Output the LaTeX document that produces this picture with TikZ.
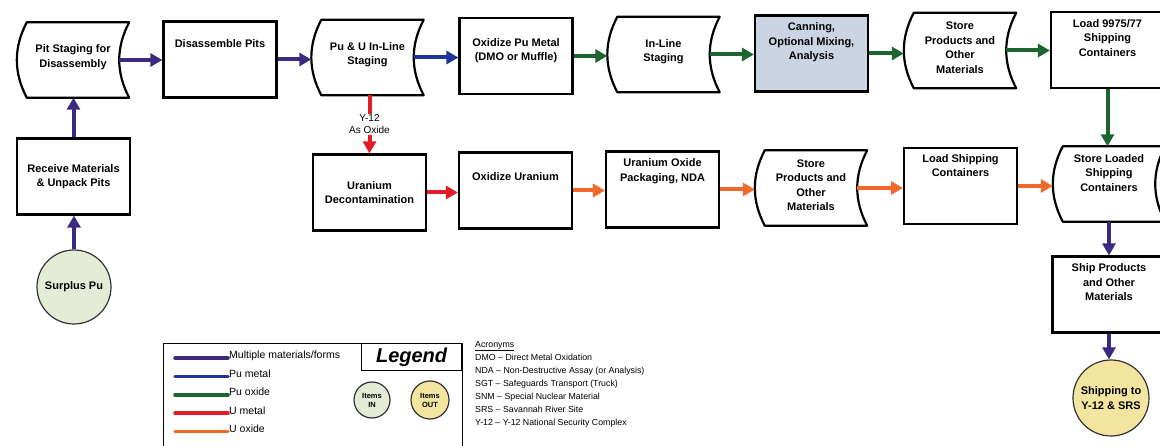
\documentclass[tikz,border=0pt]{standalone}
\usepackage{fontspec}
\setmainfont{Liberation Sans}
\usepackage{xcolor}
\usepackage{tikz}
\usetikzlibrary{arrows.meta,calc,positioning}

\definecolor{multi}{RGB}{60,42,128}
\definecolor{pumetal}{RGB}{30,52,152}
\definecolor{puoxide}{RGB}{28,100,48}
\definecolor{umetal}{RGB}{225,30,40}
\definecolor{uoxide}{RGB}{240,104,42}
\definecolor{canfill}{RGB}{202,212,226}
\definecolor{infill}{RGB}{228,236,214}
\definecolor{outfill}{RGB}{243,228,160}

\newcommand{\boxfont}{\fontsize{11}{14.5}\selectfont\bfseries}
\newcommand{\legfont}{\fontsize{10.5}{12}\selectfont}

\tikzset{
  proc/.style={draw,line width=2.2pt,minimum width=113pt,minimum height=76pt,inner sep=0pt,align=center,font=\boxfont},
  store/.style={minimum width=102pt,minimum height=75pt,inner sep=0pt},
  txt/.style={align=center,inner sep=0pt,font=\boxfont},
  ball/.style={circle,draw=black!80,line width=1.2pt,minimum size=74pt,inner sep=0pt,align=center,font=\boxfont},
  flow/.style={line width=4pt,-{Triangle[length=12pt,width=13pt]}}
}

\begin{document}
\begin{tikzpicture}[x=1pt,y=-1pt]
\useasboundingbox (0,0) rectangle (1160,446);
\fill[white] (0,0) rectangle (1160,446);
\clip (0,0) rectangle (1160,446);

% top row
\node[store] (pitstage) at (68,60) {};
\node[txt,xshift=5pt,yshift=3pt] (pitstage-t) at (pitstage) {Pit Staging for\\Disassembly};
\node[proc] (disasm) at (220,59.5) {};
\node[txt,below=19pt of disasm.north] (disasm-t) {Disassemble Pits};
\node[store] (pustage) at (362.5,57.5) {};
\node[txt,xshift=5pt,yshift=3pt] (pustage-t) at (pustage) {Pu \& U In-Line\\Staging};
\node[proc] (oxpu) at (516,56) {};
\node[txt,below=21pt of oxpu.north] (oxpu-t) {Oxidize Pu Metal\\(DMO or Muffle)};
\node[store] (inline) at (658.5,54.5) {};
\node[txt,xshift=5pt,yshift=3pt] (inline-t) at (inline) {In-Line\\Staging};
\node[proc,fill=canfill] (canning) at (811.5,53.5) {};
\node[txt,below=8pt of canning.north] (canning-t) {Canning,\\Optional Mixing,\\Analysis};
\node[store] (storetop) at (955,50.5) {};
\node[txt,xshift=5pt,yshift=3pt] (storetop-t) at (storetop) {Store\\Products and\\Other\\Materials};
\node[proc] (load9975) at (1107.5,50) {};
\node[txt,below=8pt of load9975.north] (load9975-t) {Load 9975/77\\Shipping\\Containers};

% left column
\node[proc] (receive) at (73.5,176.5) {Receive Materials\\\& Unpack Pits};
\node[ball,fill=infill] (surplus) at (74,287) {Surplus Pu};

% uranium row
\node[proc] (decon) at (369.5,192.5) {Uranium\\Decontamination};
\node[proc] (oxu) at (515.5,190.5) {};
\node[txt,below=21pt of oxu.north] (oxu-t) {Oxidize Uranium};
\node[proc] (uopack) at (662.5,189.5) {};
\node[txt,below=8pt of uopack.north] (uopack-t) {Uranium Oxide\\Packaging, NDA};
\node[store] (storemid) at (806,188) {};
\node[txt,xshift=5pt,yshift=3pt] (storemid-t) at (storemid) {Store\\Products and\\Other\\Materials};
\node[proc] (loadship) at (960.5,186) {};
\node[txt,below=7pt of loadship.north] (loadship-t) {Load Shipping\\Containers};
\node[store] (storeload) at (1104,184) {};
\node[txt,below=8pt of storeload.north,xshift=5pt] (storeload-t) {Store Loaded\\Shipping\\Containers};

% right column
\node[proc] (shipprod) at (1109,294.5) {};
\node[txt,below=8pt of shipprod.north] (shipprod-t) {Ship Products\\and Other\\Materials};
\node[ball,fill=outfill,minimum size=76pt] (shipcirc) at (1111,398) {Shipping to\\Y-12 \& SRS};

% storage outlines
\foreach \s in {pitstage,pustage,inline,storetop,storemid,storeload}
  \draw[line width=2.2pt,line join=round]
    ($(\s.north west)+(10pt,0)$) -- ($(\s.north east)+(10pt,0)$)
    .. controls ($(\s.east)!0.333!(\s.north east)+(-3.3pt,0)$) and ($(\s.east)!0.333!(\s.south east)+(-3.3pt,0)$) .. ($(\s.south east)+(10pt,0)$)
    -- ($(\s.south west)+(10pt,0)$)
    .. controls ($(\s.west)!0.333!(\s.south west)+(-3.3pt,0)$) and ($(\s.west)!0.333!(\s.north west)+(-3.3pt,0)$) .. cycle;

% flows
\draw[flow,multi] (surplus.north) -- (surplus.north |- receive.south);
\draw[flow,multi] (receive.north) -- (receive.north |- pitstage.south);
\draw[flow,multi] (pitstage.east) -- (pitstage.east -| disasm.west);
\draw[flow,multi] (disasm.east) -- (disasm.east -| pustage.west);
\draw[flow,pumetal] (pustage.east) -- (pustage.east -| oxpu.west);
\draw[flow,puoxide] (oxpu.east) -- (oxpu.east -| inline.west);
\draw[flow,puoxide] (inline.east) -- (inline.east -| canning.west);
\draw[flow,puoxide] (canning.east) -- (canning.east -| storetop.west);
\draw[flow,puoxide] (storetop.east) -- (storetop.east -| load9975.west);
\draw[flow,puoxide] (load9975.south) -- (load9975.south |- storeload.north);
\draw[flow,umetal] (decon.north |- pustage.south) -- (decon.north)
  node[midway,fill=white,inner sep=1pt,align=center,text=black,font=\fontsize{10}{12}\selectfont] (y12) {Y-12\\As Oxide};
\draw[flow,umetal] (decon.east) -- (decon.east -| oxu.west);
\draw[flow,uoxide] (oxu.east) -- (oxu.east -| uopack.west);
\draw[flow,uoxide] (uopack.east) -- (uopack.east -| storemid.west);
\draw[flow,uoxide] (storemid.east) -- (storemid.east -| loadship.west);
\draw[flow,uoxide] (loadship.east) -- (loadship.east -| storeload.west);
\draw[flow,multi] (shipprod.north |- storeload.south) -- (shipprod.north);
\draw[flow,multi] (shipprod.south) -- (shipprod.south |- shipcirc.north);

% legend
\draw[line width=0.8pt] (163,450) -- (163,343) -- (462,343) -- (462,450);
\node[draw,line width=0.8pt,anchor=north east,minimum width=100pt,minimum height=27pt,font=\fontsize{20}{20}\selectfont\bfseries\itshape] (legend) at (462,343) {Legend};
\foreach \c/\t [count=\i from 0] in {multi/{Multiple materials/forms},pumetal/{Pu metal},puoxide/{Pu oxide},umetal/{U metal},uoxide/{U oxide}}{
  \draw[\c,line width=3.5pt,line cap=round] (175,358+18.4*\i) -- (228,358+18.4*\i);
  \node[anchor=base west,inner sep=0pt,font=\legfont] (leg\i) at (229,359+18.4*\i) {\t};
}
\node[ball,fill=infill,minimum size=36pt,font=\fontsize{7.5}{9}\selectfont\bfseries] (itemsin) at (372,400) {Items\\IN};
\node[ball,fill=outfill,minimum size=38pt,font=\fontsize{7.5}{9}\selectfont\bfseries] (itemsout) at (430,400) {Items\\OUT};

% acronyms
\node[anchor=north west,align=left,inner sep=0pt,font=\fontsize{8.8}{13}\selectfont] (acro) at (475,341)
  {\underline{Acronyms}\\DMO -- Direct Metal Oxidation\\NDA -- Non-Destructive Assay (or Analysis)\\SGT -- Safeguards Transport (Truck)\\SNM -- Special Nuclear Material\\SRS -- Savannah River Site\\Y-12 -- Y-12 National Security Complex};
\end{tikzpicture}
\end{document}
